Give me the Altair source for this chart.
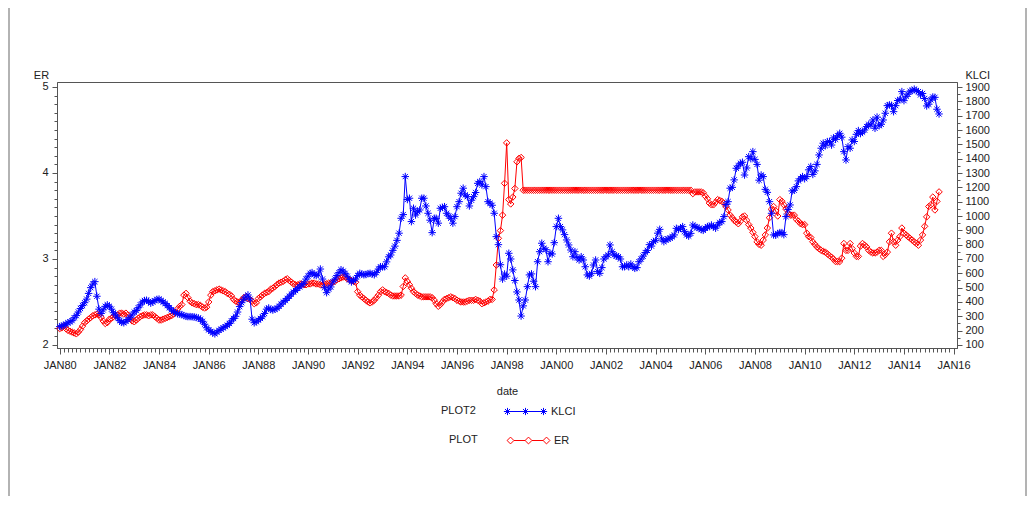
import altair as alt
import pandas as pd

FONT = "Liberation Sans"

# Monthly series, Jan 1980 .. Jun 2015
ER = [
    2.19, 2.20, 2.22, 2.19, 2.17, 2.16, 2.15, 2.14, 2.13, 2.15, 2.18, 2.22,  # 1980
    2.26, 2.28, 2.30, 2.32, 2.34, 2.35, 2.36, 2.35, 2.32, 2.28, 2.25, 2.26,  # 1981
    2.30, 2.31, 2.33, 2.34, 2.35, 2.37, 2.37, 2.36, 2.37, 2.35, 2.31, 2.28,  # 1982
    2.27, 2.29, 2.31, 2.33, 2.34, 2.35, 2.35, 2.34, 2.35, 2.35, 2.33, 2.31,  # 1983
    2.29, 2.29, 2.30, 2.31, 2.32, 2.33, 2.34, 2.36, 2.38, 2.42, 2.45, 2.47,  # 1984
    2.58, 2.60, 2.55, 2.51, 2.49, 2.48, 2.47, 2.47, 2.46, 2.44, 2.43, 2.44,  # 1985
    2.50, 2.58, 2.62, 2.63, 2.64, 2.65, 2.64, 2.63, 2.62, 2.60, 2.59, 2.57,  # 1986
    2.53, 2.51, 2.50, 2.50, 2.52, 2.55, 2.56, 2.54, 2.53, 2.51, 2.48, 2.49,  # 1987
    2.54, 2.56, 2.58, 2.60, 2.61, 2.62, 2.65, 2.66, 2.68, 2.70, 2.72, 2.73,  # 1988
    2.74, 2.76, 2.77, 2.75, 2.73, 2.71, 2.70, 2.70, 2.71, 2.71, 2.70, 2.70,  # 1989
    2.71, 2.71, 2.72, 2.72, 2.71, 2.71, 2.70, 2.70, 2.71, 2.71, 2.72, 2.72,  # 1990
    2.73, 2.74, 2.76, 2.77, 2.78, 2.79, 2.79, 2.77, 2.76, 2.75, 2.74, 2.73,  # 1991
    2.62, 2.58, 2.56, 2.54, 2.52, 2.50, 2.49, 2.50, 2.52, 2.55, 2.58, 2.62,  # 1992
    2.64, 2.62, 2.61, 2.60, 2.58, 2.57, 2.57, 2.57, 2.57, 2.58, 2.68, 2.78,  # 1993
    2.74, 2.70, 2.66, 2.62, 2.60, 2.58, 2.57, 2.56, 2.56, 2.56, 2.56, 2.56,  # 1994
    2.55, 2.52, 2.48, 2.45, 2.47, 2.50, 2.53, 2.54, 2.55, 2.56, 2.55, 2.54,  # 1995
    2.52, 2.51, 2.50, 2.50, 2.50, 2.51, 2.52, 2.52, 2.52, 2.53, 2.52, 2.51,  # 1996
    2.48, 2.49, 2.50, 2.51, 2.53, 2.53, 2.64, 2.93, 3.24, 3.33, 3.51, 3.88,  # 1997
    4.35, 3.69, 3.64, 3.72, 3.82, 4.13, 4.17, 4.18, 3.80, 3.80, 3.80, 3.80,  # 1998
    3.80, 3.80, 3.80, 3.80, 3.80, 3.80, 3.80, 3.80, 3.80, 3.80, 3.80, 3.80,  # 1999
    3.80, 3.80, 3.80, 3.80, 3.80, 3.80, 3.80, 3.80, 3.80, 3.80, 3.80, 3.80,  # 2000
    3.80, 3.80, 3.80, 3.80, 3.80, 3.80, 3.80, 3.80, 3.80, 3.80, 3.80, 3.80,  # 2001
    3.80, 3.80, 3.80, 3.80, 3.80, 3.80, 3.80, 3.80, 3.80, 3.80, 3.80, 3.80,  # 2002
    3.80, 3.80, 3.80, 3.80, 3.80, 3.80, 3.80, 3.80, 3.80, 3.80, 3.80, 3.80,  # 2003
    3.80, 3.80, 3.80, 3.80, 3.80, 3.80, 3.80, 3.80, 3.80, 3.80, 3.80, 3.80,  # 2004
    3.80, 3.80, 3.80, 3.80, 3.80, 3.80, 3.76, 3.78, 3.78, 3.78, 3.78, 3.77,  # 2005
    3.73, 3.70, 3.65, 3.63, 3.63, 3.66, 3.69, 3.68, 3.67, 3.65, 3.61, 3.57,  # 2006
    3.51, 3.48, 3.45, 3.43, 3.41, 3.44, 3.49, 3.50, 3.45, 3.40, 3.36, 3.31,  # 2007
    3.26, 3.20, 3.17, 3.16, 3.22, 3.28, 3.36, 3.48, 3.58, 3.61, 3.56, 3.50,  # 2008
    3.69, 3.67, 3.63, 3.58, 3.53, 3.51, 3.51, 3.51, 3.46, 3.44, 3.41, 3.40,  # 2009
    3.40, 3.30, 3.26, 3.25, 3.20, 3.17, 3.14, 3.12, 3.10, 3.09, 3.08, 3.06,  # 2010
    3.04, 3.02, 3.00, 2.97, 2.97, 2.97, 3.01, 3.18, 3.10, 3.10, 3.18, 3.12,  # 2011
    3.07, 3.03, 3.03, 3.15, 3.18, 3.16, 3.14, 3.10, 3.08, 3.07, 3.07, 3.08,  # 2012
    3.10, 3.10, 3.03, 3.05, 3.08, 3.20, 3.30, 3.20, 3.16, 3.22, 3.26, 3.36,  # 2013
    3.30, 3.28, 3.26, 3.24, 3.22, 3.20, 3.18, 3.16, 3.22, 3.28, 3.38, 3.49,  # 2014
    3.61, 3.63, 3.72, 3.57, 3.67, 3.78,                                      # 2015
]

KLCI = [
    228, 232, 238, 245, 255, 262, 270, 290, 305, 330, 355, 375,  # 1980
    395, 420, 460, 500, 525, 542, 440, 350, 320, 345, 370, 380,  # 1981
    370, 350, 325, 310, 290, 270, 258, 255, 265, 278, 290, 310,  # 1982
    330, 340, 360, 380, 400, 410, 412, 405, 392, 400, 410, 418,  # 1983
    420, 410, 400, 390, 375, 360, 345, 335, 325, 318, 315, 312,  # 1984
    305, 300, 298, 298, 297, 296, 292, 288, 280, 265, 245, 220,  # 1985
    205, 195, 185, 178, 190, 202, 210, 220, 228, 238, 250, 268,  # 1986
    285, 300, 330, 368, 395, 420, 435, 449, 420, 280, 255, 262,  # 1987
    274, 285, 297, 320, 350, 358, 348, 344, 350, 356, 370, 385,  # 1988
    400, 410, 425, 440, 455, 470, 480, 495, 505, 520, 530, 560,  # 1989
    580, 600, 605, 590, 585, 595, 630, 560, 500, 465, 490, 505,  # 1990
    540, 560, 585, 605, 625, 615, 600, 580, 555, 540, 550, 560,  # 1991
    585, 600, 595, 590, 592, 598, 600, 595, 590, 605, 630, 646,  # 1992
    645, 646, 680, 715, 728, 760, 790, 830, 880, 984, 1010, 1275,  # 1993
    1115, 1124, 961, 1054, 1007, 1030, 1042, 1124, 1124, 1070, 1019, 971,  # 1994
    884, 984, 984, 950, 1054, 1060, 1065, 1019, 1000, 984, 950, 996,  # 1995
    1065, 1100, 1159, 1194, 1147, 1135, 1070, 1110, 1135, 1164, 1228, 1240,  # 1996
    1217, 1275, 1205, 1100, 1089, 1075, 1019, 856, 800, 660, 560, 595,  # 1997
    580, 740, 700, 624, 550, 470, 414, 302, 373, 414, 507, 589,  # 1998
    596, 545, 507, 681, 751, 810, 775, 765, 681, 740, 735, 814,  # 1999
    926, 984, 926, 903, 870, 833, 798, 763, 716, 751, 710, 693,  # 2000
    716, 693, 646, 589, 581, 600, 658, 693, 612, 600, 640, 700,  # 2001
    716, 728, 798, 751, 728, 720, 716, 700, 646, 646, 658, 646,  # 2002
    665, 646, 635, 640, 681, 700, 720, 745, 760, 800, 790, 821,  # 2003
    830, 880, 907, 840, 821, 833, 840, 845, 855, 868, 914, 905,  # 2004
    915, 926, 891, 868, 860, 879, 937, 926, 920, 914, 905, 900,  # 2005
    914, 926, 926, 937, 926, 915, 937, 955, 961, 996, 1080, 1100,  # 2006
    1194, 1200, 1252, 1333, 1350, 1368, 1375, 1286, 1335, 1414, 1400, 1449,  # 2007
    1395, 1360, 1250, 1286, 1275, 1186, 1165, 1100, 1019, 868, 866, 878,  # 2008
    884, 884, 870, 996, 1045, 1077, 1175, 1180, 1205, 1245, 1260, 1275,  # 2009
    1260, 1275, 1322, 1345, 1290, 1315, 1360, 1426, 1473, 1508, 1490, 1519,  # 2010
    1520, 1495, 1545, 1535, 1560, 1577, 1550, 1449, 1391, 1484, 1473, 1531,  # 2011
    1520, 1570, 1596, 1575, 1585, 1600, 1624, 1640, 1635, 1670, 1612, 1690,  # 2012
    1630, 1640, 1670, 1717, 1770, 1775, 1772, 1728, 1770, 1806, 1812, 1868,  # 2013
    1805, 1835, 1850, 1871, 1875, 1885, 1875, 1868, 1845, 1855, 1820, 1768,  # 2014
    1780, 1810, 1830, 1828, 1745, 1712,                                      # 2015
]

START = "1980-01-01"
ER_TICKS = [round(2 + i * 0.1, 1) for i in range(31)]
KLCI_TICKS = list(range(100, 1901, 50))
X_TICKS = [alt.DateTime(year=1980 + k // 6, month=(k % 6) * 2 + 1, date=1) for k in range(217)]

dates = pd.date_range(START, periods=len(ER), freq="MS")
df = pd.DataFrame({"date": dates, "ER": ER, "KLCI": KLCI,
                   "s_er": "ER", "s_klci": "KLCI"})

# ---- marker / legend shapes ----
ASTER = "M-1,0L1,0M0,-1L0,1M-0.7,-0.7L0.7,0.7M-0.7,0.7L0.7,-0.7"


def aster(cx, r=0.2, d=0.14):
    return (f"M{cx},{-r}L{cx},{r}M{cx - d},{-d}L{cx + d},{d}"
            f"M{cx - d},{d}L{cx + d},{-d}M{cx - r},0L{cx + r},0")


def diamond(cx, r=0.19):
    return f"M{cx - r},0L{cx},{-r}L{cx + r},0L{cx},{r}Z"


KLCI_LEG = "M-1,0L1,0" + aster(-1) + aster(0) + aster(1)
ER_LEG = ("M-0.81,0L-0.19,0M0.19,0L0.81,0" + diamond(-1) + diamond(0) + diamond(1))

x_major = "month(datum.value) == 0 && year(datum.value) % 2 == 0"
x_axis = alt.Axis(
    values=X_TICKS,
    labelExpr=f"{x_major} ? upper(timeFormat(datum.value, '%b%y')) : ''",
    labelOverlap=False, labelFlush=False, labelBound=False,
    tickSize={"condition": {"test": x_major, "value": 6}, "value": 4},
    labelPadding=5,
    title="date", titleY=46, titleBaseline="alphabetic",
)
xscale = alt.Scale(domain=[alt.DateTime(year=1979, month=11, date=22),
                           alt.DateTime(year=2016, month=2, date=20)])

er_major = "abs(datum.value - round(datum.value)) < 0.001"
er_axis = alt.Axis(
    orient="left", values=ER_TICKS,
    labelExpr=f"{er_major} ? format(datum.value, 'd') : ''",
    labelOverlap=False,
    tickSize={"condition": {"test": er_major, "value": 5}, "value": 3},
    labelPadding=4,
    title="ER", titleAngle=0, titleX=-16, titleY=-4,
    titleAlign="center", titleBaseline="alphabetic",
)
kl_major = "datum.value % 100 == 0"
kl_axis = alt.Axis(
    orient="right", values=KLCI_TICKS,
    labelExpr=f"{kl_major} ? format(datum.value, 'd') : ''",
    labelOverlap=False,
    tickSize={"condition": {"test": kl_major, "value": 5}, "value": 3},
    labelPadding=3,
    title="KLCI", titleAngle=0, titleX=8, titleY=-4,
    titleAlign="left", titleBaseline="alphabetic",
)

legend_common = dict(
    orient="none", direction="horizontal", titleOrient="left",
    titleAnchor="middle", titleBaseline="top",
    symbolSize=1296, symbolStrokeWidth=1, labelOffset=7, padding=0,
)

er_chart = alt.Chart(df).mark_line(
    strokeWidth=1,
    point=alt.OverlayMarkDef(shape="diamond", filled=False, size=42, strokeWidth=1),
).encode(
    x=alt.X("date:T", scale=xscale, axis=x_axis),
    y=alt.Y("ER:Q", scale=alt.Scale(domain=[1.965, 5.058], nice=False, zero=False), axis=er_axis),
    color=alt.Color("s_er:N", scale=alt.Scale(domain=["ER"], range=["#ff0000"]),
                    legend=alt.Legend(title="PLOT", legendX=392, legendY=340,
                                      symbolType=ER_LEG, titlePadding=32, **legend_common)),
)

klci_chart = alt.Chart(df).mark_line(
    strokeWidth=1,
    point=alt.OverlayMarkDef(shape=ASTER, filled=False, size=56, strokeWidth=1),
).encode(
    x=alt.X("date:T", scale=xscale, axis=x_axis),
    y=alt.Y("KLCI:Q", scale=alt.Scale(domain=[79, 1935], nice=False, zero=False), axis=kl_axis),
    color=alt.Color("s_klci:N", scale=alt.Scale(domain=["KLCI"], range=["#0000ff"]),
                    legend=alt.Legend(title="PLOT2", legendX=384, legendY=311,
                                      symbolType=KLCI_LEG, titlePadding=31, **legend_common)),
)

# outer page frame (decoration)
frame_l = alt.Chart(pd.DataFrame({"side": ["left"]})).mark_rule(
    color="#9a9a9a", strokeWidth=1.5
).encode(x=alt.value(-48), y=alt.value(-74), y2=alt.value(414))
frame_r = alt.Chart(pd.DataFrame({"side": ["right"]})).mark_rule(
    color="#9a9a9a", strokeWidth=1.5
).encode(x=alt.value(969), y=alt.value(-74), y2=alt.value(414))

chart = alt.layer(frame_l, frame_r, er_chart, klci_chart).resolve_scale(
    y="independent", color="independent"
).properties(
    width=900, height=266,
    autosize=alt.AutoSizeParams(type="none"),
    padding={"left": 49, "top": 74, "right": 70, "bottom": 148},
).configure(
    font=FONT, background="white",
).configure_view(
    stroke="#555555", strokeWidth=1,
).configure_axis(
    labelFont=FONT, titleFont=FONT, labelFontSize=11, titleFontSize=11,
    labelColor="#222222", titleColor="#222222", titleFontWeight="normal",
    domainColor="#555555", tickColor="#555555", grid=False,
).configure_legend(
    labelFont=FONT, titleFont=FONT, labelFontSize=11, titleFontSize=11,
    labelColor="#222222", titleColor="#222222", titleFontWeight="normal",
)

chart.save("out.html", embed_options={"renderer": "svg", "actions": False})
